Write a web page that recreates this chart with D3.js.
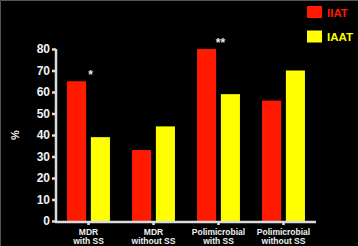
<!DOCTYPE html>
<html><head><meta charset="utf-8">
<script src="https://cdn.jsdelivr.net/npm/d3@7"></script>
<style>html,body{margin:0;padding:0;background:#000;}svg{display:block;}</style>
</head><body>
<script>
const categories = [["MDR","with SS"],["MDR","without SS"],["Polimicrobial","with SS"],["Polimicrobial","without SS"]];
const seriesNames = ["IIAT","IAAT"];
const iiat = [65, 33, 80, 56];
const iaat = [39, 44, 59, 70];
const marks = ["*", "", "**", ""];
const yTicks = [0,10,20,30,40,50,60,70,80];
const colors = ["#ff1a00","#ffff00"];

const W = 358, H = 246;
const svg = d3.select("body").append("svg").attr("width", W).attr("height", H);
svg.append("rect").attr("width", W).attr("height", H).attr("fill", "#000");
svg.append("path").attr("d", `M0.5,${H}V0.5H${W}`).attr("fill","none").attr("stroke","#555").attr("stroke-width",1);

const x0 = d3.scaleBand().domain(d3.range(categories.length)).range([56, 316]).paddingInner(0.34).paddingOuter(0.17);
const x1 = d3.scaleBand().domain(seriesNames).range([0, x0.bandwidth()]).paddingInner(0.2);
const y = d3.scaleLinear().domain([0, 80]).range([221, 49]);

const vals = [iiat, iaat];
seriesNames.forEach((s, si) => {
  svg.append("g").selectAll("rect").data(vals[si]).join("rect")
    .attr("x", (d, i) => x0(i) + x1(s))
    .attr("y", d => y(d))
    .attr("width", x1.bandwidth())
    .attr("height", d => y(0) - y(d))
    .attr("fill", colors[si]);
});

// asterisks
svg.append("g").selectAll("text").data(marks).join("text")
  .attr("x", (d, i) => x0(i) + x0.bandwidth() / 2 + 2)
  .attr("y", (d, i) => y(Math.max(iiat[i], iaat[i])) - 2)
  .attr("text-anchor", "middle")
  .attr("fill", "#e8e8e8")
  .attr("font-family", "Liberation Sans, Arial, sans-serif")
  .attr("font-weight", "bold")
  .attr("font-size", 12)
  .text(d => d);

// y axis
const yAxis = d3.axisLeft(y).tickValues(yTicks).tickSize(4).tickPadding(2);
const gy = svg.append("g").attr("transform", "translate(56,0)").call(yAxis);
gy.select(".domain").attr("stroke", "#dcdcdc").attr("stroke-width", 2.5).attr("d", `M0,${y(80)}V${y(0)+1}`);
gy.selectAll(".tick line").attr("stroke", "#dcdcdc").attr("stroke-width", 2.5);
gy.selectAll(".tick text").attr("fill", "#f0f0f0").attr("font-family", "Liberation Sans, Arial, sans-serif")
  .attr("font-weight", "bold").attr("font-size", 12);

// x axis
const xAxis = d3.axisBottom(x0).tickSize(3).tickFormat(() => "");
const gx = svg.append("g").attr("transform", `translate(0,${y(0)+1})`).call(xAxis);
gx.select(".domain").attr("stroke", "#dcdcdc").attr("stroke-width", 2.5).attr("d", "M55,0H316");
gx.selectAll(".tick line").attr("stroke", "#dcdcdc").attr("stroke-width", 2.5);
gx.selectAll(".tick").each(function(d) {
  const t = d3.select(this).append("text").attr("fill", "#f0f0f0")
    .attr("font-family", "Liberation Sans, Arial, sans-serif").attr("font-weight", "bold")
    .attr("font-size", 8.5).attr("text-anchor", "middle");
  t.append("tspan").attr("x", 0).attr("y", 13).text(categories[d][0]);
  t.append("tspan").attr("x", 0).attr("y", 22).text(categories[d][1]);
});

// y label
svg.append("text").attr("transform", "translate(19,135) rotate(-90)")
  .attr("text-anchor", "middle").attr("fill", "#f0f0f0")
  .attr("font-family", "Liberation Sans, Arial, sans-serif").attr("font-weight", "bold")
  .attr("font-size", 11).text("%");

// legend
const lg = svg.append("g").selectAll("g").data(seriesNames).join("g")
  .attr("transform", (d, i) => `translate(307,${6 + i * 24.5})`);
lg.append("rect").attr("width", 15).attr("height", 12).attr("fill", (d, i) => colors[i]);
lg.append("text").attr("x", 20).attr("y", 10.5).attr("fill", (d, i) => colors[i])
  .attr("font-family", "Liberation Sans, Arial, sans-serif").attr("font-weight", "bold")
  .attr("font-size", 11.5).text(d => d);
</script>
</body></html>
